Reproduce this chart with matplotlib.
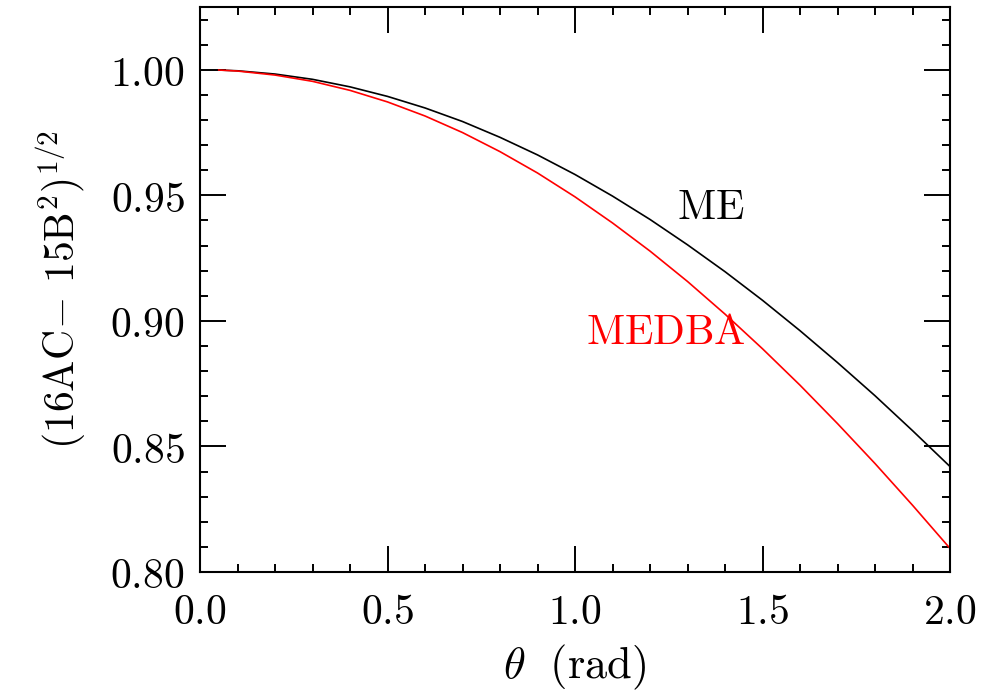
import matplotlib
matplotlib.use('Agg')
import matplotlib.pyplot as plt
from matplotlib.ticker import MultipleLocator, FormatStrFormatter

plt.rcParams['mathtext.fontset'] = 'cm'
plt.rcParams['font.family'] = 'serif'
plt.rcParams['font.serif'] = ['DejaVu Serif']

# theta (rad)
theta = [0.05, 0.1, 0.2, 0.3, 0.4, 0.5, 0.6, 0.7, 0.8, 0.9, 1.0,
         1.1, 1.2, 1.3, 1.4, 1.5, 1.6, 1.7, 1.8, 1.9, 2.0]

# courbes
me = [0.9999, 0.9996, 0.9983, 0.9962, 0.9932, 0.9894, 0.9848, 0.9794, 0.9731, 0.9661, 0.9583,
      0.9497, 0.9404, 0.9303, 0.9196, 0.9082, 0.8961, 0.8834, 0.8702, 0.8563, 0.8420]
medba = [0.9999, 0.9995, 0.9979, 0.9954, 0.9918, 0.9872, 0.9816, 0.9750, 0.9674, 0.9589, 0.9494,
         0.9390, 0.9278, 0.9157, 0.9027, 0.8889, 0.8744, 0.8591, 0.8432, 0.8266, 0.8094]

fs = 30

fig = plt.figure(figsize=(9.88, 6.93), dpi=100)
ax = fig.add_axes([200 / 988, 1 - 572 / 693, 750 / 988, 565 / 693])

ax.plot(theta, me, color='black', lw=1.2)
ax.plot(theta, medba, color='red', lw=1.2)

ax.text(1.273, 0.9455, r'$\mathrm{ME}$', color='black', fontsize=fs, ha='left', va='center')
ax.text(1.03, 0.8955, r'$\mathrm{MEDBA}$', color='red', fontsize=fs, ha='left', va='center')

ax.set_xlim(0, 2.0)
ax.set_ylim(0.80, 1.025)
ax.xaxis.set_major_locator(MultipleLocator(0.5))
ax.xaxis.set_minor_locator(MultipleLocator(0.1))
ax.yaxis.set_major_locator(MultipleLocator(0.05))
ax.yaxis.set_minor_locator(MultipleLocator(0.01))
ax.xaxis.set_major_formatter(FormatStrFormatter(r'$\mathrm{%.1f}$'))
ax.yaxis.set_major_formatter(FormatStrFormatter(r'$\mathrm{%.2f}$'))

ax.tick_params(which='both', direction='in', top=True, right=True, width=1.4, colors='black')
ax.tick_params(which='major', length=19, labelsize=fs)
ax.tick_params(which='minor', length=6)
ax.tick_params(axis='x', which='major', pad=14)
ax.tick_params(axis='y', which='major', pad=11)
for s in ax.spines.values():
    s.set_linewidth(1.5)

ax.set_xlabel(r'$\theta\ \ \mathrm{(rad)}$', fontsize=32, labelpad=7)
ax.set_ylabel(r'$(16\mathrm{AC}\!-\,15\mathrm{B}^2)^{1/2}$', fontsize=fs, labelpad=16)

fig.savefig('out.png', dpi=100)
